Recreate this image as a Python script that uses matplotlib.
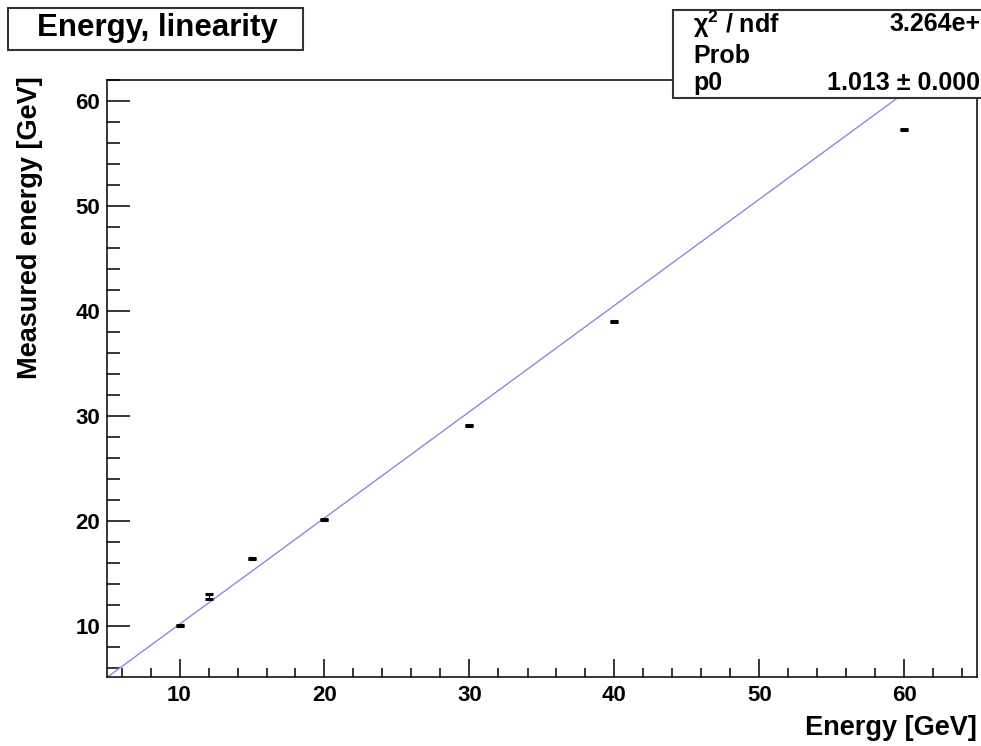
import numpy as np
import matplotlib
matplotlib.use('Agg')
import matplotlib.pyplot as plt
from matplotlib.patches import Rectangle
from matplotlib.ticker import MultipleLocator

plt.rcParams['font.family'] = ['Liberation Sans', 'DejaVu Sans']
plt.rcParams['font.weight'] = 'bold'
plt.rcParams['mathtext.fontset'] = 'custom'
plt.rcParams['mathtext.bf'] = 'Liberation Sans:bold'
plt.rcParams['mathtext.rm'] = 'Liberation Sans:bold'

# beam energy vs reconstructed energy
beam_energy = [10, 12, 15, 20, 30, 40, 60]
measured_energy = [10.0, 12.8, 16.4, 20.1, 29.1, 39.0, 57.3]
measured_err = [0.05, 0.25, 0.05, 0.05, 0.05, 0.05, 0.05]

# fit: y = p0 * x
p0 = 1.013
fit_range = [5, 65]

W, H = 981, 746
fig = plt.figure(figsize=(W / 100, H / 100), dpi=100)
fig.patch.set_facecolor('white')


def px(x, y):
    return x / W, 1 - y / H


ax = fig.add_axes([107 / W, 1 - 677 / H, 870 / W, 597 / H])

xf = np.array(fit_range, dtype=float)
ax.plot(xf, p0 * xf, color='#8a8ae0', lw=1.0, zorder=2)

# only the error bar caps show up as small dashes
ax.errorbar(beam_energy, measured_energy, yerr=measured_err, fmt='none',
            ecolor='black', elinewidth=0.8, capsize=3.2, capthick=2.2,
            zorder=3)

ax.set_xlim(5, 65)
ax.set_ylim(5.1, 62)
ax.xaxis.set_major_locator(MultipleLocator(10))
ax.xaxis.set_minor_locator(MultipleLocator(2))
ax.yaxis.set_major_locator(MultipleLocator(10))
ax.yaxis.set_minor_locator(MultipleLocator(2))

ax.tick_params(axis='both', which='both', direction='in',
               top=False, right=False, width=1.1, labelsize=16)
ax.tick_params(axis='x', which='major', length=13, pad=6)
ax.tick_params(axis='x', which='minor', length=6.5)
ax.tick_params(axis='y', which='major', length=16.5, pad=5)
ax.tick_params(axis='y', which='minor', length=9.4)
for lab in ax.get_xticklabels() + ax.get_yticklabels():
    lab.set_fontweight('bold')
for sp in ax.spines.values():
    sp.set_linewidth(1.1)

fig.text(*px(977, 728), 'Energy [GeV]', ha='right', va='center',
         fontsize=19.5, fontweight='bold')
fig.text(*px(30, 76), 'Measured energy [GeV]', ha='center', va='top',
         rotation=90, fontsize=19.5, fontweight='bold')

# title box
fig.patches.append(Rectangle(px(8, 50), 295 / W, 42 / H,
                             transform=fig.transFigure, facecolor='white',
                             edgecolor='#333333', lw=1.5, zorder=5))
fig.text(*px(157, 28), 'Energy, linearity', ha='center', va='center',
         fontsize=22.5, fontweight='bold', zorder=6)

# fit statistics box
fig.patches.append(Rectangle(px(673, 98), 330 / W, 88 / H,
                             transform=fig.transFigure, facecolor='white',
                             edgecolor='#333333', lw=1.5, zorder=5))
stat_rows = [
    ('χ$^{\\mathbf{2}}$ / ndf', '3.264e+', 24),
    ('Prob', '', 56),
    ('p0', '1.013 ± 0.000', 83),
]
for name, val, yv in stat_rows:
    fig.text(*px(693, yv), name, ha='left', va='center',
             fontsize=18, fontweight='bold', zorder=6)
    if val:
        fig.text(*px(980, yv), val, ha='right', va='center',
                 fontsize=18, fontweight='bold', zorder=6)

fig.savefig('out.png', dpi=100)
